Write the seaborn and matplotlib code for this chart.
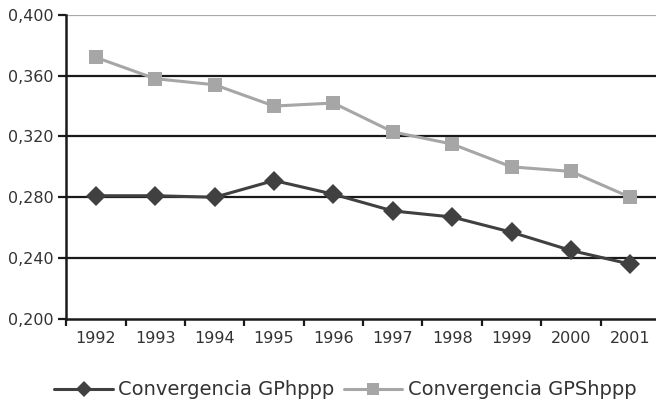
import pandas as pd
import matplotlib
matplotlib.use('Agg')
import matplotlib.pyplot as plt
import seaborn as sns

years = ['1992', '1993', '1994', '1995', '1996', '1997', '1998', '1999', '2000', '2001']
gphppp = [0.281, 0.281, 0.280, 0.291, 0.282, 0.271, 0.267, 0.257, 0.245, 0.236]
gpshppp = [0.372, 0.358, 0.354, 0.340, 0.342, 0.323, 0.315, 0.300, 0.297, 0.280]
yticks = [0.200, 0.240, 0.280, 0.320, 0.360, 0.400]

names = ['Convergencia GPhppp', 'Convergencia GPShppp']
df = pd.DataFrame({
    'pos': list(range(len(years))) * 2,
    'val': gphppp + gpshppp,
    'serie': [names[0]] * len(years) + [names[1]] * len(years),
})

sns.set_style('white')
plt.rcParams['font.family'] = ['DejaVu Sans']

fig = plt.figure(figsize=(6.56, 4.13), dpi=100)
ax = fig.add_axes([0.101, 0.228, 0.905, 0.736])

for y in yticks[1:]:
    ax.axhline(y, color='#a8a8a8' if y == 0.400 else '#1a1a1a', lw=1.6, zorder=1)

ax = sns.lineplot(data=df, x='pos', y='val', hue='serie', style='serie',
                  palette=['#404040', '#a6a6a6'], markers=['D', 's'], dashes=False,
                  markersize=10, markeredgewidth=0, linewidth=2.2, ax=ax, zorder=3)

ax.set_xlim(-0.5, 9.5)
ax.set_ylim(0.200, 0.400)
ax.set_yticks(yticks)
ax.set_yticklabels([('%.3f' % v).replace('.', ',') for v in yticks], fontsize=11.5, color='#333333')
ax.set_xticks(range(len(years)))
ax.set_xticklabels(years, fontsize=11.5, color='#333333')
ax.set_xticks([i + 0.5 for i in range(-1, len(years))], minor=True)
ax.tick_params(axis='x', which='major', length=0, pad=9)
ax.tick_params(axis='x', which='minor', length=5, width=1.6, color='#1a1a1a', direction='out', bottom=True)
ax.tick_params(axis='y', length=6, width=1.6, color='#1a1a1a', direction='out', left=True, pad=3)
ax.set_xlabel('')
ax.set_ylabel('')
for s in ['top', 'right']:
    ax.spines[s].set_visible(False)
for s in ['left', 'bottom']:
    ax.spines[s].set_color('#1a1a1a')
    ax.spines[s].set_linewidth(1.8)

ax.legend(title=None, loc='center', bbox_to_anchor=(0.47, -0.234), ncol=2, frameon=False,
          fontsize=14, handlelength=3.0, columnspacing=0.5, handletextpad=0.27,
          markerscale=0.8, labelcolor='#333333')
fig.savefig('out.png', dpi=100)
